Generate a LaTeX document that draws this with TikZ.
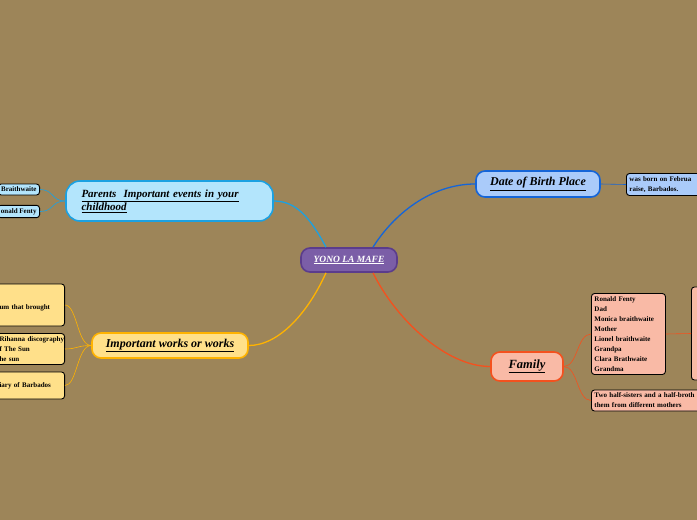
\documentclass[tikz,border=0pt]{standalone}
\usepackage{fontspec}
\setmainfont{Liberation Serif}
\usetikzlibrary{positioning}

% --- colours ---
\definecolor{bgtan}{HTML}{9D8559}
\definecolor{coreFill}{HTML}{7B5EA7}
\definecolor{coreLine}{HTML}{5B3C8C}
\definecolor{skyFill}{HTML}{B3E5FC}
\definecolor{skyLine}{HTML}{1BA1E2}
\definecolor{dateFill}{HTML}{AACBFA}
\definecolor{dateLine}{HTML}{1565D8}
\definecolor{workFill}{HTML}{FFE08A}
\definecolor{workLine}{HTML}{FFB300}
\definecolor{famFill}{HTML}{F9BAA6}
\definecolor{famLine}{HTML}{F4511E}

\begin{document}
\begin{tikzpicture}[
    x=1pt, y=-1pt,
    topic/.style={rounded corners=9pt, line width=1.6pt, minimum height=26pt,
                  font=\fontsize{12}{14}\selectfont\bfseries\itshape},
    leaf/.style={draw=black, line width=0.9pt, rounded corners=3pt, inner sep=3pt,
                 font=\fontsize{7}{10}\selectfont\bfseries},
    link/.style={line width=1.3pt},
    twig/.style={line width=0.6pt}
]

    % --- canvas ---
    \useasboundingbox (0,0) rectangle (697,520);
    \clip (0,0) rectangle (697,520);
    \fill[bgtan] (0,0) rectangle (697,520);

    % --- central topic ---
    \node[topic, fill=coreFill, draw=coreLine, minimum width=96pt, minimum height=24pt,
          text=white, font=\fontsize{9.5}{11}\selectfont\bfseries\itshape]
          (core) at (349,260) {\underline{YONO LA MAFE}};

    % --- main topics ---
    \node[topic, fill=skyFill, draw=skyLine, minimum width=207pt, minimum height=40pt,
          rounded corners=14pt, align=left, text width=176pt,
          font=\fontsize{11}{13.5}\selectfont\bfseries\itshape]
          (parents) at (169.5,201) {\underline{Parents\ \ Important events in your}\\\underline{childhood}};

    \node[topic, fill=dateFill, draw=dateLine, minimum width=124pt]
          (birth) at (538,184) {\underline{Date of Birth Place}};

    \node[topic, fill=workFill, draw=workLine, minimum width=156pt, minimum height=25pt]
          (works) at (170,345.5) {\underline{Important works or works}};

    \node[topic, fill=famFill, draw=famLine, minimum width=72pt, minimum height=29pt,
          font=\fontsize{12.5}{15}\selectfont\bfseries\itshape]
          (family) at (527,366.5) {\underline{Family}};

    % --- parents leaves ---
    \node[leaf, fill=skyFill, anchor=east] (clara) at (40,189.5) {Braithwaite};
    \node[leaf, fill=skyFill, anchor=east] (ronald) at (40,211.5) {onald Fenty};

    % --- birth leaf ---
    \node[leaf, fill=dateFill, anchor=west, text width=120pt, align=left]
          (born) at (626,184.5) {was born on Februa\\raise, Barbados.};

    % --- works leaves ---
    \node[leaf, fill=workFill, anchor=east, text width=62pt, align=left, minimum height=42pt]
          (album) at (65,305) {\mbox{}\\um that brought};
    \node[leaf, fill=workFill, anchor=east, text width=62pt, align=left]
          (disco) at (65,349) {\mbox{Rihanna discography}\\f The Sun\\he sun};
    \node[leaf, fill=workFill, anchor=east, text width=62pt, align=left, minimum height=27pt]
          (envoy) at (65,385.5) {iary of Barbados};

    % --- family leaves ---
    \node[leaf, fill=famFill, anchor=west, text width=68pt, align=left]
          (relatives) at (591,334) {Ronald Fenty\\Dad\\Monica braithwaite\\Mother\\Lionel braithwaite\\Grandpa\\Clara Brathwaite\\Grandma};
    \node[leaf, fill=famFill, anchor=west, minimum width=40pt, minimum height=93pt]
          (famMore) at (691,333.5) {};
    \node[leaf, fill=famFill, anchor=west, text width=130pt, align=left]
          (siblings) at (591,400.5) {Two half-sisters and a half-broth\\them from different mothers};

    % --- links from the centre ---
    \draw[link, skyLine] ([xshift=-23pt]core.north) .. controls +(-16,-30) and +(22,0) .. (parents.east);
    \draw[link, dateLine] ([xshift=24pt]core.north) .. controls +(20,-32) and +(-45,0) .. (birth.west);
    \draw[link, workLine] ([xshift=-23pt]core.south) .. controls +(-18,40) and +(30,0) .. (works.east);
    \draw[link, famLine] ([xshift=24pt]core.south) .. controls +(22,45) and +(-45,0) .. (family.west);

    % --- twigs to the leaves ---
    \foreach \leafname in {clara, ronald}
        \draw[twig, skyLine] (parents.west) .. controls +(-14,0) and +(14,0) .. (\leafname.east);
    \draw[twig, dateLine] (birth.east) -- (born.west);
    \foreach \leafname in {album, disco, envoy}
        \draw[twig, workLine] (works.west) .. controls +(-14,0) and +(12,0) .. (\leafname.east);
    \foreach \leafname in {relatives, siblings}
        \draw[twig, famLine] (family.east) .. controls +(14,0) and +(-14,0) .. (\leafname.west);
    \draw[twig, famLine] (relatives.east) -- (famMore.west);

\end{tikzpicture}
\end{document}
